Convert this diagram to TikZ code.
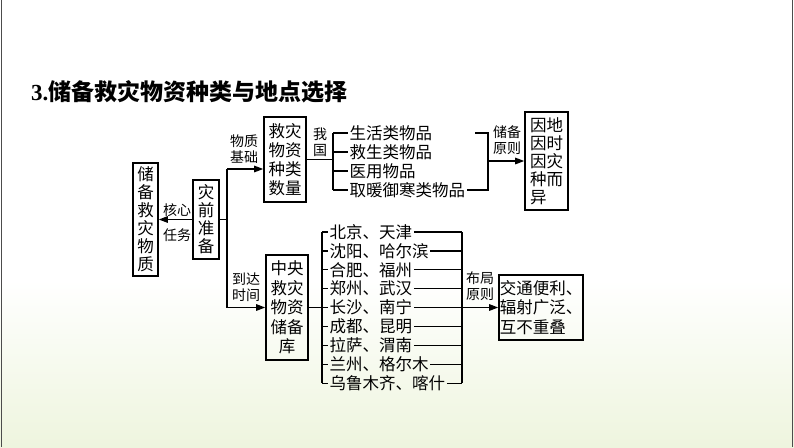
\documentclass[tikz,border=0pt]{standalone}
\usepackage{fontspec}
\setmainfont{Liberation Serif}
\newfontfamily\cjk{Noto Sans CJK SC}
\usetikzlibrary{arrows.meta,calc}
\begin{document}
\begin{tikzpicture}[x=1pt,y=-1pt,
  box/.style={draw=black,line width=1.6pt,inner sep=0pt,align=center,font=\cjk\fontsize{16.5}{18}\selectfont},
  lbl/.style={inner sep=0pt,align=center,font=\cjk\fontsize{14}{16}\selectfont},
  itm/.style={inner sep=1.5pt,anchor=west,font=\cjk\fontsize{16.5}{18}\selectfont},
  conn/.style={line width=1.3pt},
  arr/.style={line width=1.3pt,-{Triangle[length=9pt,width=6.5pt]}}]
\useasboundingbox (0,0) rectangle (794,447);
\fill[white] (0,0) rectangle (794,280);
\shade[top color=white,bottom color={rgb,255:red,238;green,245;blue,222}] (0,280) rectangle (794,447);
\draw[line width=1pt,black!70] (1.5,0) -- (1.5,447);
\draw[line width=1pt,black!70] (792,0) -- (792,447);

\node[anchor=west,inner sep=0pt] (title) at (31,92) {\fontsize{23}{26}\selectfont\bfseries 3.\cjk\bfseries 储备救灾物资种类与地点选择};

% boxes
\node[box,minimum width=25pt,minimum height=113pt] (n1) at (145.5,219.5) {储\\备\\救\\灾\\物\\质};
\node[box,minimum width=26pt,minimum height=79pt] (n2) at (206,219.5) {灾\\前\\准\\备};
\node[box,minimum width=42pt,minimum height=85pt,font=\cjk\fontsize{16.5}{19}\selectfont] (n3) at (285,159.5) {救灾\\物资\\种类\\数量};
\node[box,minimum width=42pt,minimum height=105pt,font=\cjk\fontsize{16.5}{19.5}\selectfont] (n4) at (287,307.5) {中央\\救灾\\物资\\储备\\库};
\node[box,minimum width=43pt,minimum height=98pt,align=left] (n5) at (546.5,161) {因地\\因时\\因灾\\种而\\异\hphantom{异}};
\node[box,minimum width=84pt,minimum height=65pt,align=left,font=\cjk\fontsize{16.5}{19.5}\selectfont] (n6) at (541,307.5) {交通便利、\\辐射广泛、\\互不重叠\hphantom{、}};

% core task
\draw[arr] (n2.west) -- (n1.east);
\node[lbl] (l1) at (177,210) {核心};
\node[lbl] (l2) at (177,235) {任务};

% trunk
\coordinate (t) at (227,219.5);
\coordinate (tu) at (227,169);
\coordinate (td) at (227,307.5);
\draw[conn] (n2.east) -- (t);
\draw[conn] (tu) -- (td);
\draw[arr] (tu) -- (tu -| n3.west);
\draw[arr] (td) -- (td -| n4.west);
\node[lbl] (l3) at (244,149) {物质\\基础};
\node[lbl] (l4) at (246,287) {到达\\时间};

% upper list
\node[itm] (a1) at (348,133) {生活类物品};
\node[itm] (a2) at (348,152) {救生类物品};
\node[itm] (a3) at (348,171) {医用物品};
\node[itm] (a4) at (348,190) {取暖御寒类物品};
\coordinate (ba) at (333,159.5);
\draw[conn] (n3.east) -- (ba);
\draw[conn] (333,133) -- (333,190);
\foreach \i in {1,...,4} \draw[conn] (a\i.west -| ba) -- (a\i.west);
\node[lbl] (l5) at (320,142.5) {我\\国};
\coordinate (ra) at (488,133);
\coordinate (rb) at (488,190);
\coordinate (rm) at (488,161);
\draw[conn] (475,133) -- (ra) -- (rb) -- (a4.east);
\draw[arr] (rm) -- (rm -| n5.west);
\node[lbl] (l6) at (507,140) {储备\\原则};

% lower list
\foreach \t [count=\i] in {北京、天津,沈阳、哈尔滨,合肥、福州,郑州、武汉,长沙、南宁,成都、昆明,拉萨、渭南,兰州、格尔木,乌鲁木齐、喀什}
  \node[itm] (b\i) at (328,{232+(\i-1)*18.9}) {\t};
\coordinate (bl) at (322,307.5);
\coordinate (br) at (462,307.5);
\draw[conn] (n4.east) -- (bl);
\draw[conn] (322,232) -- (322,383.2);
\draw[conn] (462,232) -- (462,383.2);
\foreach \i in {1,...,9} {
  \draw[conn] (b\i.west -| bl) -- (b\i.west);
  \draw[conn] (b\i.east) -- (b\i.east -| br);
}
\draw[arr] (br) -- (br -| n6.west);
\node[lbl] (l7) at (480,286) {布局\\原则};
\end{tikzpicture}
\end{document}
